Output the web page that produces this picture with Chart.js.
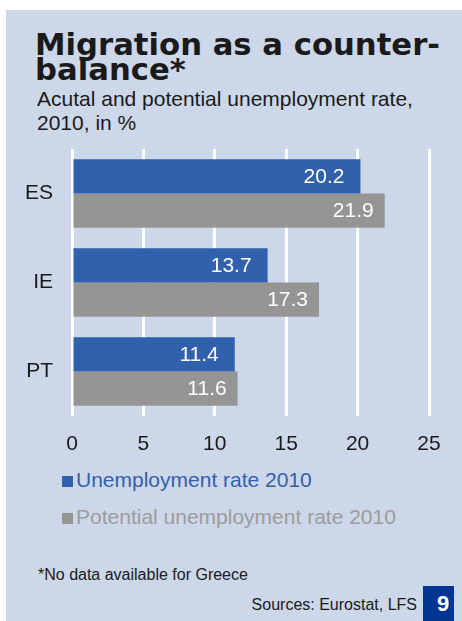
<!DOCTYPE html>
<html>
<head>
<meta charset="utf-8">
<script src="https://cdn.jsdelivr.net/npm/chart.js@4.4.1/dist/chart.umd.min.js"></script>
<style>
    body { margin: 0; background: #fff; width: 462px; height: 621px; position: relative; overflow: hidden;
           font-family: "Liberation Sans", Arial, sans-serif; }
    #panel { position: absolute; left: 6px; top: 10px; width: 456px; height: 611px; background: #ccd7ea; }
    .abs { position: absolute; white-space: nowrap; }
    #title { left: 35px; top: 32px; font-family: "DejaVu Sans", sans-serif; font-weight: bold;
             font-size: 30.7px; line-height: 25px; color: #1b1a1a; }
    #subtitle { left: 37px; top: 87px; font-size: 21px; line-height: 24px; color: #1b1a1a; }
    #chartBox { position: absolute; left: 6px; top: 140px; width: 456px; height: 320px; }
    .legend-row { position: absolute; left: 62px; font-size: 21px; line-height: 24px; }
    .legend-row span.box { position: absolute; left: 0; top: 8px; width: 11px; height: 11px; }
    .legend-row span.txt { position: absolute; left: 14px; top: 0; white-space: nowrap; }
    #note { left: 38px; top: 566px; font-size: 16px; line-height: 18px; color: #1b1a1a; }
    #source { right: 45px; top: 596px; font-size: 16px; line-height: 18px; color: #1b1a1a; }
    #pageNo { left: 423px; top: 586px; width: 31px; height: 35px; background: #003594; }
    #pageNo span { position: absolute; left: 14px; top: 6px; color: #fff; font-weight: bold; font-size: 22px; line-height: 24px; }
</style>
</head>
<body>
<div id="panel"></div>
<div id="title" class="abs">Migration as a counter-<br>balance*</div>
<div id="subtitle" class="abs">Acutal and potential unemployment rate,<br>2010, in %</div>
<div id="chartBox"><canvas id="myChart" width="456" height="320"></canvas></div>
<div id="legend"></div>
<div id="note" class="abs">*No data available for Greece</div>
<div id="source" class="abs">Sources: Eurostat, LFS</div>
<div id="pageNo" class="abs"><span>9</span></div>

<script>
const categories = ['ES', 'IE', 'PT'];
const unemployment = [20.2, 13.7, 11.4];
const potential = [21.9, 17.3, 11.6];
const seriesNames = ['Unemployment rate 2010', 'Potential unemployment rate 2010'];
const xMin = 0, xMax = 25, xStep = 5;

const blue = '#3161ad';
const grey = '#979593';
const legendTextColors = [blue, '#9c9c9c'];

// white numbers inside the end of each bar
const barValues = {
    id: 'barValues',
    afterDatasetsDraw(chart) {
        const ctx = chart.ctx;
        ctx.save();
        ctx.font = '21px "Liberation Sans", Arial, sans-serif';
        ctx.fillStyle = '#ffffff';
        ctx.textAlign = 'right';
        ctx.textBaseline = 'middle';
        chart.data.datasets.forEach(function (ds, i) {
            const offset = i === 0 ? 16 : 11;
            chart.getDatasetMeta(i).data.forEach(function (bar, j) {
                ctx.fillText(ds.data[j].toFixed(1), bar.x - offset, bar.y + 1);
            });
        });
        ctx.restore();
    }
};

function buildLegend(datasets) {
    const legend = document.getElementById('legend');
    const tops = [468, 505];
    datasets.forEach(function (ds, i) {
        const row = document.createElement('div');
        row.className = 'legend-row';
        row.style.top = tops[i] + 'px';
        row.innerHTML = '<span class="box" style="background:' + ds.backgroundColor + '"></span>' +
            '<span class="txt" style="color:' + legendTextColors[i] + '">' + ds.label + '</span>';
        legend.appendChild(row);
    });
}

const ctx = document.getElementById('myChart').getContext('2d');
window.myChart = new Chart(ctx, {
    type: 'bar',
    data: {
        labels: categories,
        datasets: [{
            label: seriesNames[0],
            data: unemployment,
            backgroundColor: blue
        }, {
            label: seriesNames[1],
            data: potential,
            backgroundColor: grey
        }]
    },
    options: {
        indexAxis: 'y',
        responsive: false,
        animation: false,
        devicePixelRatio: 1,
        categoryPercentage: 0.77,
        barPercentage: 1.0,
        layout: { padding: { top: 9, right: 33, left: 0, bottom: 0 } },
        plugins: {
            legend: { display: false },
            tooltip: { enabled: false }
        },
        scales: {
            x: {
                min: xMin,
                max: xMax,
                ticks: {
                    stepSize: xStep,
                    color: '#1b1a1a',
                    padding: 16,
                    font: { family: '"Liberation Sans", Arial, sans-serif', size: 21 }
                },
                grid: { color: '#ffffff', lineWidth: 3, drawTicks: false },
                border: { display: false },
                afterFit: function (s) { s.height = 44; }
            },
            y: {
                ticks: {
                    color: '#1b1a1a',
                    padding: 19,
                    font: { family: '"Liberation Sans", Arial, sans-serif', size: 21 }
                },
                grid: { display: false, drawTicks: false },
                border: { display: false },
                afterFit: function (s) {
                    s.width = 66;
                    // the tick padding should not push the plot down
                    s.paddingTop = 0;
                    s.paddingBottom = 0;
                }
            }
        }
    },
    plugins: [barValues]
});

buildLegend(window.myChart.data.datasets);
</script>
</body>
</html>
